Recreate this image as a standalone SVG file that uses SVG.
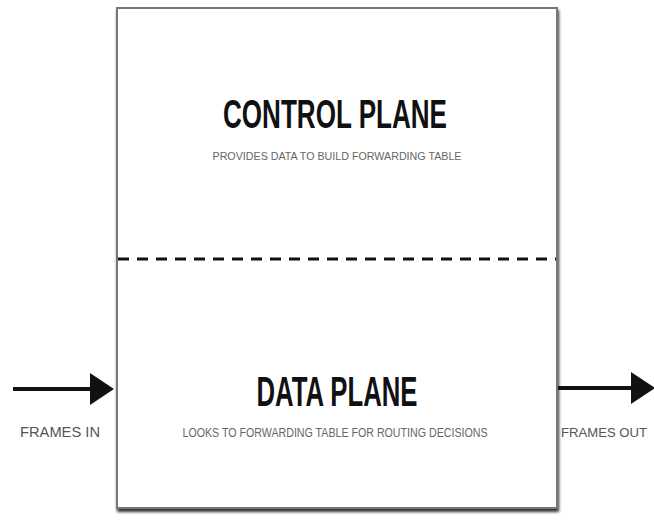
<svg xmlns="http://www.w3.org/2000/svg" width="654" height="521" viewBox="0 0 654 521">
<defs>
<style>
.title{font-family:"Liberation Sans",Arial,sans-serif;font-weight:bold;fill:#111;text-anchor:middle}
.sub{font-family:"Liberation Sans",Arial,sans-serif;fill:#666;text-anchor:middle}
.lbl{font-family:"Liberation Sans",Arial,sans-serif;fill:#555}
.conn{stroke:#111;stroke-width:4;fill:none}
</style>
<marker id="ah" markerWidth="6" markerHeight="8" refX="5" refY="4" orient="auto" markerUnits="strokeWidth">
<path d="M0,0 L6,4 L0,8 z" fill="#111"/>
</marker>
<filter id="sh" x="-5%" y="-5%" width="110%" height="110%">
<feGaussianBlur in="SourceAlpha" stdDeviation="1.5"/>
<feOffset dx="1" dy="3"/>
<feComponentTransfer><feFuncA type="linear" slope="0.8"/></feComponentTransfer>
<feMerge><feMergeNode/><feMergeNode in="SourceGraphic"/></feMerge>
</filter>
</defs>
<rect width="654" height="521" fill="#fff"/>
<g id="box">
<rect x="117" y="8" width="440" height="500" fill="#fff" stroke="#777" stroke-width="2" filter="url(#sh)"/>
<line x1="118" y1="259" x2="556" y2="259" stroke="#111" stroke-width="3" stroke-dasharray="11,8"/>
</g>
<g id="control-plane">
<text class="title" x="335" y="128" font-size="40" textLength="224" lengthAdjust="spacingAndGlyphs">CONTROL PLANE</text>
<text class="sub" x="337" y="160" font-size="11" textLength="249" lengthAdjust="spacingAndGlyphs">PROVIDES DATA TO BUILD FORWARDING TABLE</text>
</g>
<g id="data-plane">
<text class="title" x="337" y="406" font-size="42" textLength="161" lengthAdjust="spacingAndGlyphs">DATA PLANE</text>
<text class="sub" x="335" y="437" font-size="12" textLength="305" lengthAdjust="spacingAndGlyphs">LOOKS TO FORWARDING TABLE FOR ROUTING DECISIONS</text>
</g>
<g id="frames-in">
<text class="lbl" x="20" y="437" font-size="15" textLength="80" lengthAdjust="spacingAndGlyphs">FRAMES IN</text>
</g>
<g id="frames-out">
<text class="lbl" x="561" y="437" font-size="13.5" textLength="86" lengthAdjust="spacingAndGlyphs">FRAMES OUT</text>
</g>
<g id="connectors">
<line class="conn" x1="13" y1="389" x2="110" y2="389" marker-end="url(#ah)"/>
<line class="conn" x1="558" y1="388" x2="651" y2="388" marker-end="url(#ah)"/>
</g>
</svg>
